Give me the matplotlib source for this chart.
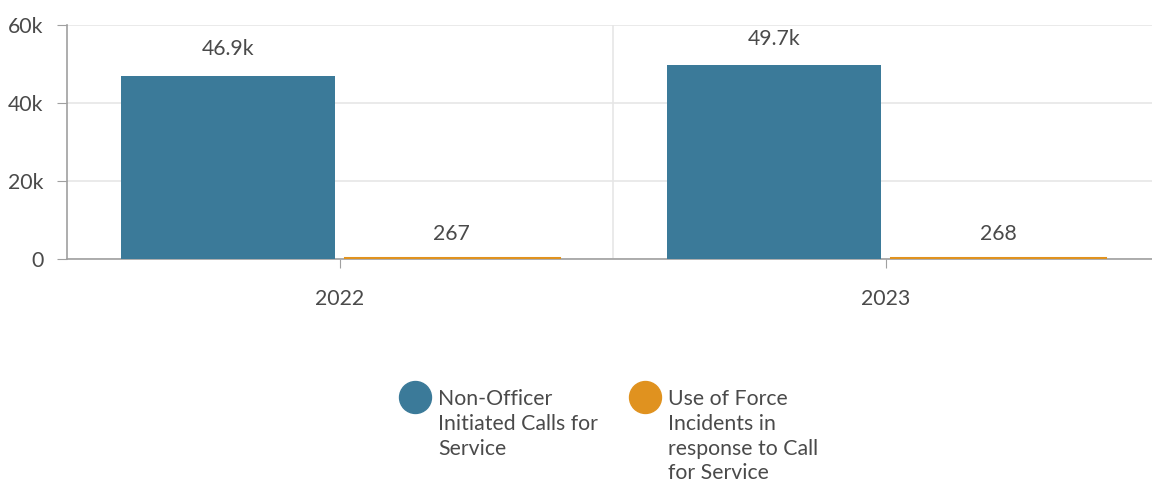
import matplotlib.pyplot as plt
import numpy as np
from matplotlib.lines import Line2D
from matplotlib.ticker import FuncFormatter

plt.rcParams['font.family'] = ['Lato', 'DejaVu Sans']

# --- Data ---
years = ["2022", "2023"]
calls = [46900, 49700]
uof = [267, 268]
series_names = ["Non-Officer\nInitiated Calls for\nService",
                "Use of Force\nIncidents in\nresponse to Call\nfor Service"]
blue = "#3b7a99"
orange = "#e0921f"
text_col = "#4a4a4a"
fs = 15.3

fig = plt.figure(figsize=(11.52, 4.83), dpi=100)
W, H = 1152, 483
ax = fig.add_axes([67 / W, (H - 259) / H, 1092 / W, 234 / H])

x = np.arange(len(years))
bw = 0.392
off = 0.205
b1 = ax.bar(x - off, calls, bw, color=blue, zorder=3)
# tiny values get a minimum visible thickness like the original renderer
b2 = ax.bar(x + off, uof, bw, color=orange, edgecolor=orange, linewidth=2.2, zorder=3)

def kfmt(v):
    return f"{v/1000:.1f}k" if v >= 1000 else f"{v:.0f}"

for bars, dy in ((b1, 12), (b2, 10)):
    for r in bars:
        v = r.get_height()
        ax.annotate(kfmt(v), (r.get_x() + r.get_width() / 2, v),
                    xytext=(0, dy), textcoords="offset points",
                    ha="center", va="bottom", fontsize=fs, color=text_col)

ax.set_xlim(-0.5, 1.5)
ax.set_ylim(0, 60000)
ax.set_yticks([0, 20000, 40000, 60000])
ax.yaxis.set_major_formatter(FuncFormatter(lambda v, p: "0" if v == 0 else f"{v/1000:.0f}k"))
ax.set_xticks(x)
ax.set_xticklabels(years)

# light grid, category separator
ax.grid(axis="y", color="#e6e6e6", linewidth=1.2, zorder=0)
ax.axvline(0.5, color="#e6e6e6", linewidth=1.2, zorder=0)

for s in ["top", "right"]:
    ax.spines[s].set_visible(False)
for s in ["left", "bottom"]:
    ax.spines[s].set_color("#a0a0a0")
    ax.spines[s].set_linewidth(1.2)
    ax.spines[s].set_zorder(2)

ax.tick_params(axis="y", length=7, pad=10, color="#a0a0a0", labelsize=fs, labelcolor=text_col)
ax.tick_params(axis="x", length=6.5, pad=15, color="#a0a0a0", labelsize=fs, labelcolor=text_col)

# --- Legend (manual, handle aligned with first line) ---
leg_x = [415, 645]
leg_y = 397
for lx, c, name in zip(leg_x, (blue, orange), series_names):
    fig.add_artist(Line2D([lx / W], [1 - leg_y / H], marker="o", markersize=23,
                          color=c, linestyle="none", transform=fig.transFigure))
    fig.text((lx + 23) / W, 1 - (leg_y - 8) / H, name, ha="left", va="top",
             fontsize=fs, color=text_col, linespacing=1.3)

fig.savefig("out.png", dpi=100)
